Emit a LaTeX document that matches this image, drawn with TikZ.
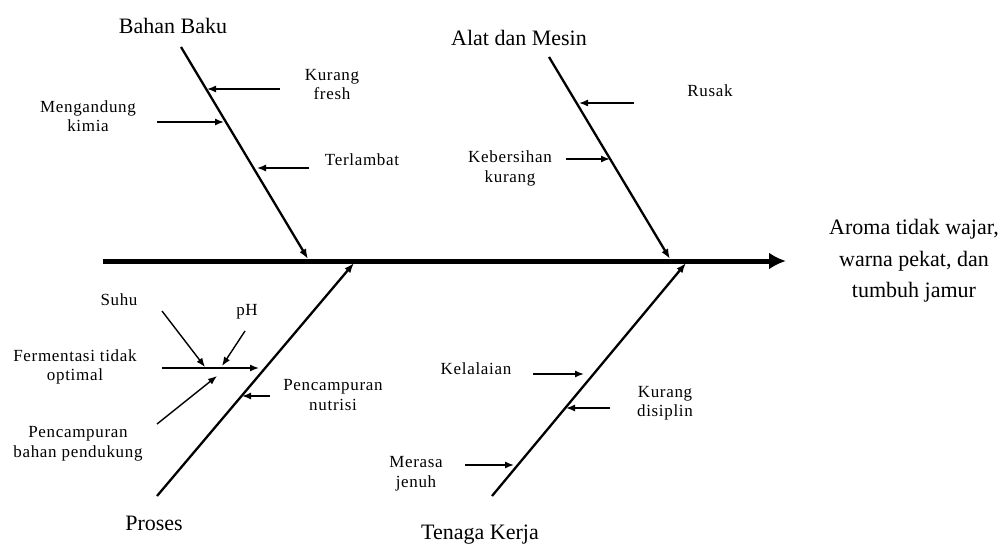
\documentclass[tikz,border=0pt]{standalone}
\usepackage{fontspec}
\setmainfont{Liberation Serif}
\newfontfamily\lblfont[LetterSpace=4]{Liberation Serif}
\usetikzlibrary{arrows.meta}
\begin{document}
\begin{tikzpicture}[x=1pt,y=-1pt,
  big/.style={font=\fontsize{22}{31.5}\selectfont, align=center, inner sep=0pt},
  small/.style={font=\lblfont\fontsize{17}{19.5}\selectfont, align=center, inner sep=0pt},
  spine/.style={line width=5pt, -{Latex[length=17pt,width=17pt]}},
  bone/.style={line width=2.3pt, -{Latex[length=10pt,width=7.5pt]}},
  cause/.style={line width=1.4pt, -{Latex[length=9pt,width=7pt]}}]
\useasboundingbox[fill=white] (0,0) rectangle (1008,545);

% spine
\coordinate (s0) at (103,261);
\coordinate (s1) at (786,261);
\draw[spine] (s0) -- (s1);
\node[big] (effect) at (914,261) {Aroma tidak wajar,\\warna pekat, dan\\tumbuh jamur};

% Bahan Baku
\node[big] (bahan) at (173,26) {Bahan Baku};
\coordinate (bb0) at (181,47);
\coordinate (bb1) at (308,259);
\draw[bone] (bb0) -- (bb1);
\node[small] (kf) at (332,84.5) {Kurang\\fresh};
\coordinate (kf0) at (280,89); \coordinate (kf1) at (207,89);
\draw[cause] (kf0) -- (kf1);
\node[small] (mk) at (88,116) {Mengandung\\kimia};
\coordinate (mk0) at (157,122); \coordinate (mk1) at (224,122);
\draw[cause] (mk0) -- (mk1);
\node[small] (tl) at (362,160) {Terlambat};
\coordinate (tl0) at (309,168); \coordinate (tl1) at (257,168);
\draw[cause] (tl0) -- (tl1);

% Alat dan Mesin
\node[big] (alat) at (519,38) {Alat dan Mesin};
\coordinate (am0) at (549,57);
\coordinate (am1) at (670,259);
\draw[bone] (am0) -- (am1);
\node[small] (rs) at (710,91) {Rusak};
\coordinate (rs0) at (634,103); \coordinate (rs1) at (579,103);
\draw[cause] (rs0) -- (rs1);
\node[small] (kb) at (510,168.5) {Kebersihan\\kurang};
\coordinate (kb0) at (566,159); \coordinate (kb1) at (610,159);
\draw[cause] (kb0) -- (kb1);

% Proses
\node[big] (proses) at (154,523) {Proses};
\coordinate (pr0) at (157,496);
\coordinate (pr1) at (354,263);
\draw[bone] (pr0) -- (pr1);
\node[small] (suhu) at (119,300) {Suhu};
\node[small] (ph) at (247,312) {pH};
\node[small] (ferm) at (75,367) {Fermentasi tidak\\optimal};
\node[small] (pbp) at (78,444) {Pencampuran\\bahan pendukung};
\coordinate (fm0) at (162,368); \coordinate (fm1) at (259,368);
\draw[cause] (fm0) -- (fm1);
\coordinate (su0) at (162,311); \coordinate (su1) at (205,367);
\draw[cause] (su0) -- (su1);
\coordinate (ph0) at (245,331); \coordinate (ph1) at (222,366);
\draw[cause] (ph0) -- (ph1);
\coordinate (bp0) at (157,424); \coordinate (bp1) at (217,376);
\draw[cause] (bp0) -- (bp1);
\node[small] (pn) at (333,395) {Pencampuran\\nutrisi};
\coordinate (pn0) at (270,396); \coordinate (pn1) at (242,396);
\draw[cause] (pn0) -- (pn1);

% Tenaga Kerja
\node[big] (tenaga) at (480,535) {Tenaga Kerja};
\coordinate (tk0) at (492,496);
\coordinate (tk1) at (686,263);
\draw[bone] (tk0) -- (tk1);
\node[small] (kl) at (476,369) {Kelalaian};
\coordinate (kl0) at (533,374); \coordinate (kl1) at (584,374);
\draw[cause] (kl0) -- (kl1);
\node[small] (kd) at (665,403) {Kurang\\disiplin};
\coordinate (kd0) at (610,408); \coordinate (kd1) at (566,408);
\draw[cause] (kd0) -- (kd1);
\node[small] (mj) at (416,473.5) {Merasa\\jenuh};
\coordinate (mj0) at (465,465); \coordinate (mj1) at (514,465);
\draw[cause] (mj0) -- (mj1);
\end{tikzpicture}
\end{document}
